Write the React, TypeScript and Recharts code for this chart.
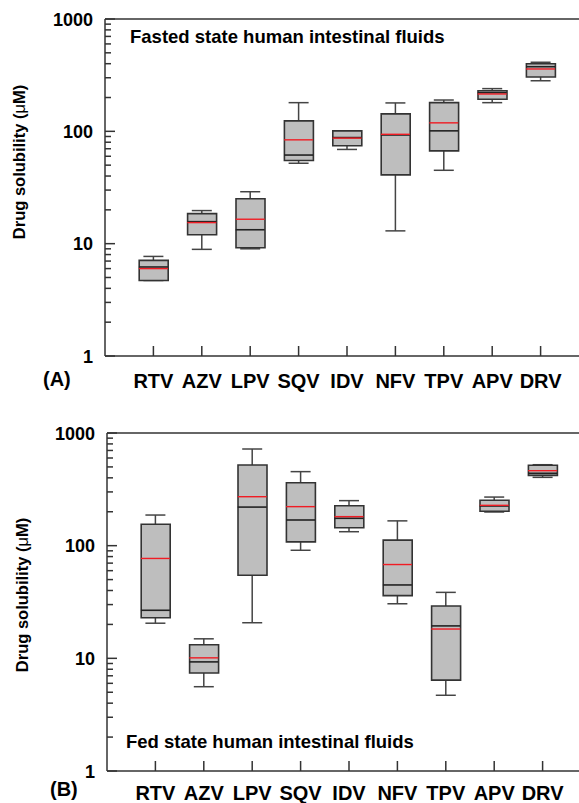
import { ComposedChart, XAxis, YAxis, Bar, Scatter, ErrorBar, ReferenceLine } from "recharts";

const categories = ["RTV", "AZV", "LPV", "SQV", "IDV", "NFV", "TPV", "APV", "DRV"];

// (A) fasted state, µM
const fastedMin = [4.7, 8.9, 9.0, 52, 69, 13, 45, 180, 282];
const fastedQ1 = [4.7, 12.0, 9.2, 55, 74.5, 41, 67, 193, 305];
const fastedMedian = [6.2, 15.7, 13.3, 61.5, 88, 92.8, 101, 221, 376];
const fastedQ3 = [7.1, 18.5, 25.1, 124, 101, 143, 180, 230, 400];
const fastedMax = [7.7, 19.7, 29, 180, 101, 179, 190, 240, 412];
const fastedMean = [6.0, 15.4, 16.5, 84, 87, 94.1, 119, 215, 359];

// (B) fed state, µM
const fedMin = [20.5, 5.6, 20.7, 91, 133, 30.5, 4.7, 199, 404];
const fedQ1 = [22.9, 7.4, 54.6, 108, 144, 36, 6.4, 202, 421];
const fedMedian = [26.7, 9.3, 220, 169, 175, 44.8, 19.4, 225, 439];
const fedQ3 = [155, 13.2, 520, 362, 226, 112, 29.1, 253, 517];
const fedMax = [187, 14.9, 721, 454, 251, 166, 38.5, 270, 523];
const fedMean = [77, 10.1, 272, 222, 181, 68, 18.2, 228, 463];

const xTicks = [1, 2, 3, 4, 5, 6, 7, 8, 9];
const yTicks = [
  1, 2, 3, 4, 5, 6, 7, 8, 9,
  10, 20, 30, 40, 50, 60, 70, 80, 90,
  100, 200, 300, 400, 500, 600, 700, 800, 900,
  1000,
];
const yMajor = [1, 10, 100, 1000];

const FONT = '"Liberation Sans", Arial, Helvetica, sans-serif';
const AXIS = "#333";
const BOX_W = 29;

function buildRows(min: number[], q1: number[], med: number[], q3: number[], max: number[], mean: number[]) {
  return categories.map((name, i) => ({
    x: i + 1,
    name,
    box: [q1[i], q3[i]],
    median: med[i],
    mean: mean[i],
    whisker: [med[i] - min[i], max[i] - med[i]],
  }));
}

const fastedRows = buildRows(fastedMin, fastedQ1, fastedMedian, fastedQ3, fastedMax, fastedMean);
const fedRows = buildRows(fedMin, fedQ1, fedMedian, fedQ3, fedMax, fedMean);

const YTick = (props: any) => {
  const { x, y, payload } = props;
  const major = yMajor.includes(payload.value);
  return (
    <g>
      <line x1={x} x2={x + (major ? 10 : 6)} y1={y} y2={y} stroke={AXIS} strokeWidth={1.5} />
      {major && (
        <text x={x - 12} y={y} dy={6.5} textAnchor="end" fontSize={18} fontWeight="bold" fontFamily={FONT} fill="#000">
          {payload.value}
        </text>
      )}
    </g>
  );
};

const makeXTick = (labelDy: number) => (props: any) => {
  const { x, y, payload } = props;
  return (
    <g>
      <line x1={x} x2={x} y1={y} y2={y - 10} stroke={AXIS} strokeWidth={1.5} />
      <text x={x} y={y + labelDy} textAnchor="middle" fontSize={20} fontWeight="bold" fontFamily={FONT} fill="#000">
        {categories[payload.value - 1]}
      </text>
    </g>
  );
};

const hLine = (color: string, width: number) => (props: any) => (
  <line
    x1={props.cx - BOX_W / 2}
    x2={props.cx + BOX_W / 2}
    y1={props.cy}
    y2={props.cy}
    stroke={color}
    strokeWidth={width}
  />
);

const noShape = () => <g />;

type PanelProps = {
  rows: any[];
  top: number;
  height: number;
  margin: { top: number; right: number; bottom: number; left: number };
  xAxisHeight: number;
  labelDy: number;
  title: string;
  titlePos: [number, number];
  tag: string;
  tagPos: [number, number];
  yLabelPos: [number, number];
};

function Panel({ rows, top, height, margin, xAxisHeight, labelDy, title, titlePos, tag, tagPos, yLabelPos }: PanelProps) {
  const XTick = makeXTick(labelDy);
  return (
    <ComposedChart
      width={620}
      height={height}
      data={rows}
      margin={margin}
      style={{ position: "absolute", left: 0, top }}
    >
      <XAxis
        dataKey="x"
        type="number"
        domain={[0, 10]}
        ticks={xTicks}
        allowDataOverflow
        height={xAxisHeight}
        tickSize={0}
        tickMargin={0}
        tickLine={false}
        axisLine={{ stroke: AXIS, strokeWidth: 1.5 }}
        tick={<XTick />}
        interval={0}
      />
      <YAxis
        scale="log"
        domain={[1, 1000]}
        ticks={yTicks}
        allowDataOverflow
        width={60}
        tickSize={0}
        tickMargin={0}
        tickLine={false}
        axisLine={{ stroke: AXIS, strokeWidth: 1.5 }}
        tick={<YTick />}
        interval={0}
      />
      <ReferenceLine y={1000} stroke={AXIS} strokeWidth={1.5} />
      <Scatter dataKey="median" shape={noShape} isAnimationActive={false} zIndex={100}>
        <ErrorBar
          dataKey="whisker"
          direction="y"
          width={10}
          stroke="#444"
          strokeWidth={1.5}
          isAnimationActive={false}
          zIndex={100}
        />
      </Scatter>
      <Bar
        dataKey="box"
        barSize={BOX_W}
        fill="#bebebe"
        stroke="#333"
        strokeWidth={1.6}
        isAnimationActive={false}
        zIndex={300}
      />
      <Scatter dataKey="median" shape={hLine("#222", 1.6)} isAnimationActive={false} zIndex={600} />
      <Scatter dataKey="mean" shape={hLine("#f01c24", 1.4)} isAnimationActive={false} zIndex={700} />
      <text x={titlePos[0]} y={titlePos[1]} fontSize={18.5} fontWeight="bold" fontFamily={FONT} fill="#000">
        {title}
      </text>
      <text x={tagPos[0]} y={tagPos[1]} fontSize={20} fontWeight="bold" fontFamily={FONT} fill="#000">
        {tag}
      </text>
      <text
        x={yLabelPos[0]}
        y={yLabelPos[1]}
        transform={`rotate(-90, ${yLabelPos[0]}, ${yLabelPos[1]})`}
        textAnchor="middle"
        fontSize={16.5}
        fontWeight="bold"
        fontFamily={FONT}
        fill="#000"
      >
        Drug solubility (<tspan fontWeight="normal">μ</tspan>M)
      </text>
    </ComposedChart>
  );
}

export default function App() {
  return (
    <div
      style={{
        position: "absolute",
        left: 0,
        top: 0,
        width: 579,
        height: 803,
        overflow: "hidden",
        background: "#fff",
      }}
    >
      <Panel
        rows={fastedRows}
        top={0}
        height={400}
        margin={{ top: 19, right: 31, bottom: 0, left: 45 }}
        xAxisHeight={44}
        labelDy={31.5}
        title="Fasted state human intestinal fluids"
        titlePos={[130, 43]}
        tag="(A)"
        tagPos={[43, 386]}
        yLabelPos={[24.5, 162]}
      />
      <Panel
        rows={fedRows}
        top={400}
        height={403}
        margin={{ top: 33, right: 29, bottom: 0, left: 47 }}
        xAxisHeight={32}
        labelDy={28.6}
        title="Fed state human intestinal fluids"
        titlePos={[126, 348]}
        tag="(B)"
        tagPos={[50, 396]}
        yLabelPos={[28, 195]}
      />
    </div>
  );
}
